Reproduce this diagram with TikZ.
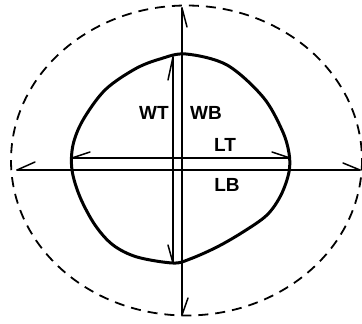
\documentclass[tikz,border=0pt]{standalone}
\usepackage{fontspec}
\setmainfont{Liberation Sans}
\begin{document}
\begin{tikzpicture}[x=1pt,y=-1pt,
  axis/.style={line width=1.7pt,line cap=round},
  barb/.style={line width=1.5pt,line cap=round},
  outline/.style={line width=3pt,line join=round},
  halo/.style={line width=1.8pt,dash pattern=on 10pt off 7pt},
  lab/.style={font=\fontsize{19}{19}\selectfont\bfseries,inner sep=0pt}]
\useasboundingbox (0,0) rectangle (362,324);
% dashed outer ellipse
\draw[halo] (186.5,160.5) ellipse [x radius=175.5, y radius=155];
% outline
\draw[outline] plot[smooth cycle, tension=0.55] coordinates {
 (186,54) (227,65) (263,97) (282,130) (289,153) (289,172) (281,195)
 (267,215) (243,232) (217,247) (190,259) (173,263) (137,257) (113,245) (95,225)
 (80,197) (72,170) (73,145) (83,120) (105,90) (135,69) (160,59)};
% main axes
\coordinate (vt) at (182,8);
\coordinate (vb) at (182,315);
\coordinate (hl) at (17,170);
\coordinate (hr) at (360,170);
\draw[axis] (vt) -- (vb);
\draw[axis] (hl) -- (hr);
\draw[barb] (vt) -- (187,27);
\draw[barb] (vb) -- (188,298);
\draw[barb] (hl) -- (35,162);
\draw[barb] (hr) -- (343,163);
% measurement lines
\coordinate (wt) at (173,57);
\coordinate (wb) at (173,263);
\coordinate (ll) at (72,158);
\coordinate (lr) at (290,158);
\draw[axis] (wt) -- (wb);
\draw[axis] (ll) -- (lr);
\draw[barb] (wt) -- (168,80);
\draw[barb] (wb) -- (168,245);
\draw[barb] (ll) -- (90,152);
\draw[barb] (lr) -- (272,152);
% labels
\node[lab] (WT) at (154,113) {WT};
\node[lab] (WB) at (206,113) {WB};
\node[lab] (LT) at (225,145) {LT};
\node[lab] (LB) at (227,185) {LB};
\end{tikzpicture}
\end{document}
